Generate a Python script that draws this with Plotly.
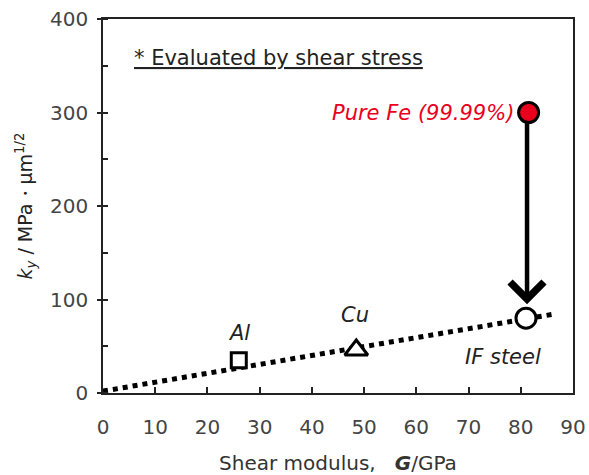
import plotly.graph_objects as go

# Data
materials = ["Al", "Cu", "IF steel", "Pure Fe (99.99%)"]
shear_modulus = [26, 48.5, 81, 81.5]      # G / GPa
ky_values = [35, 46, 80, 300]             # ky / MPa·um^1/2
trend_G = [0, 86]
trend_ky = [2, 84]
x_ticks = [0, 10, 20, 30, 40, 50, 60, 70, 80, 90]
y_ticks = [0, 100, 200, 300, 400]

FONT = "DejaVu Sans"
fig = go.Figure()

fig.add_trace(go.Scatter(x=trend_G, y=trend_ky, mode="lines",
                         line=dict(color="black", width=5, dash="dot"),
                         showlegend=False, hoverinfo="skip"))

symbols = ["square", "triangle-up", "circle", "circle"]
sizes = [15, 20, 20, 20]
fills = ["white", "white", "white", "#e8001c"]
for i in range(4):
    fig.add_trace(go.Scatter(
        x=[shear_modulus[i]], y=[ky_values[i]], mode="markers",
        marker=dict(symbol=symbols[i], size=sizes[i], color=fills[i],
                    line=dict(color="black", width=3)),
        showlegend=False, name=materials[i]))

# Arrow from Pure Fe down to IF steel
fig.add_annotation(x=shear_modulus[3] - 0.3, y=ky_values[2] + 15, ax=shear_modulus[3] - 0.3, ay=ky_values[3] - 10,
                   xref="x", yref="y", axref="x", ayref="y", showarrow=True,
                   arrowhead=4, arrowsize=1.45, arrowwidth=4.5, arrowcolor="black", text="")

# Labels
LBL = 21
fig.add_annotation(x=shear_modulus[0], y=ky_values[0] + 29, text="<i>Al</i>", showarrow=False,
                   font=dict(family=FONT, size=LBL, color="#222"))
fig.add_annotation(x=shear_modulus[1] - 0.3, y=ky_values[1] + 37, text="<i>Cu</i>", showarrow=False,
                   font=dict(family=FONT, size=LBL, color="#222"))
fig.add_annotation(x=shear_modulus[2] - 4.5, y=ky_values[2] - 42, text="<i>IF steel</i>", showarrow=False,
                   font=dict(family=FONT, size=LBL, color="#222"))
fig.add_annotation(x=shear_modulus[3] - 2.4, y=ky_values[3], text="<i>Pure Fe (99.99%)</i>", showarrow=False,
                   xanchor="right", font=dict(family=FONT, size=LBL, color="#e8001c"))
fig.add_annotation(x=5.6, y=358, text="<u>* Evaluated by shear stress</u>", showarrow=False,
                   xanchor="left", font=dict(family=FONT, size=LBL, color="#222"))

fig.update_xaxes(range=[0, 90], tickvals=x_ticks, ticks="inside", ticklen=6, tickwidth=1.5,
                 tickcolor="#222", showline=True, linecolor="#222", linewidth=1.5, mirror=True,
                 showgrid=False, zeroline=False, automargin=False, ticklabelstandoff=15,
                 tickfont=dict(family=FONT, size=20, color="#444"),
                 title=dict(text="Shear modulus,   <b><i>G</i></b>/GPa", standoff=20,
                            font=dict(family=FONT, size=20, color="#333")))
fig.update_yaxes(range=[0, 400], tickvals=y_ticks, ticks="outside", ticklen=4, tickwidth=1.5,
                 tickcolor="#222", showline=True, linecolor="#222", linewidth=1.5, mirror=True,
                 minor=dict(dtick=50, ticks="inside", ticklen=5, tickcolor="#222"),
                 showgrid=False, zeroline=False, automargin=False, ticklabelstandoff=5,
                 tickfont=dict(family=FONT, size=20, color="#444"),
                 title=dict(text="<i>k<sub>y</sub></i> / MPa・μm<sup>1/2</sup>", standoff=12,
                            font=dict(family=FONT, size=19, color="#222")))

fig.update_layout(width=589, height=475, margin=dict(l=103, r=16, t=19, b=82),
                  plot_bgcolor="white", paper_bgcolor="white")

fig.write_html("out.html", config={"displayModeBar": False},
               post_script="document.body.style.margin='0';")
